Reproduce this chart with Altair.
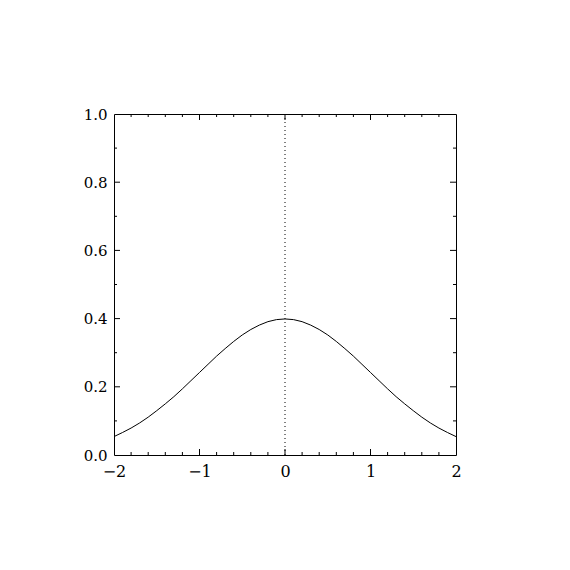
import altair as alt
import pandas as pd

# Curve values
xs = [-2.0, -1.9, -1.8, -1.7, -1.6, -1.5, -1.4, -1.3, -1.2, -1.1, -1.0,
      -0.9, -0.8, -0.7, -0.6, -0.5, -0.4, -0.3, -0.2, -0.1, 0.0,
      0.1, 0.2, 0.3, 0.4, 0.5, 0.6, 0.7, 0.8, 0.9, 1.0,
      1.1, 1.2, 1.3, 1.4, 1.5, 1.6, 1.7, 1.8, 1.9, 2.0]
ys = [0.054, 0.066, 0.079, 0.094, 0.111, 0.130, 0.150, 0.171, 0.194, 0.218, 0.242,
      0.266, 0.290, 0.312, 0.333, 0.352, 0.368, 0.381, 0.391, 0.397, 0.399,
      0.397, 0.391, 0.381, 0.368, 0.352, 0.333, 0.312, 0.290, 0.266, 0.242,
      0.218, 0.194, 0.171, 0.150, 0.130, 0.111, 0.094, 0.079, 0.066, 0.054]

x_labels = [-2, -1, 0, 1, 2]
y_labels = [0.0, 0.2, 0.4, 0.6, 0.8, 1.0]
x_major_ticks = [-1, 0, 1]
x_minor_ticks = [-1.8, -1.6, -1.4, -1.2, -0.8, -0.6, -0.4, -0.2,
                 0.2, 0.4, 0.6, 0.8, 1.2, 1.4, 1.6, 1.8]
y_major_ticks = [0.2, 0.4, 0.6, 0.8]
y_minor_ticks = [0.1, 0.3, 0.5, 0.7, 0.9]
vline_x = [0.0]

W, H = 342, 341
MAJ, MIN = 6, 3
FONT = "DejaVu Serif"

xscale = alt.Scale(domain=[-2, 2], nice=False, zero=False)
yscale = alt.Scale(domain=[0, 1], nice=False, zero=False)
xaxis = alt.Axis(values=x_labels, format="d", ticks=False, domain=False, grid=False,
                 title=None, labelFont=FONT, labelFontSize=16, labelColor="black",
                 labelPadding=8, labelFlush=False)
yaxis = alt.Axis(values=y_labels, format=".1f", ticks=False, domain=False, grid=False,
                 title=None, labelFont=FONT, labelFontSize=15, labelColor="black",
                 labelPadding=7, labelFlush=False)

curve_df = pd.DataFrame({"x": xs, "y": ys})
curve = alt.Chart(curve_df).mark_line(color="black", strokeWidth=1).encode(
    x=alt.X("x:Q", scale=xscale, axis=xaxis),
    y=alt.Y("y:Q", scale=yscale, axis=yaxis),
)

vline = alt.Chart(pd.DataFrame({"x": vline_x})).mark_rule(
    color="black", strokeWidth=1, strokeDash=[1, 3]
).encode(x=alt.X("x:Q", scale=xscale, axis=xaxis))


def xticks(vals, length):
    d = pd.DataFrame({"x": vals})
    bottom = alt.Chart(d).mark_rule(color="black", strokeWidth=1).encode(
        x=alt.X("x:Q", scale=xscale, axis=xaxis),
        y=alt.value(H), y2=alt.value(H - length))
    top = alt.Chart(d).mark_rule(color="black", strokeWidth=1).encode(
        x=alt.X("x:Q", scale=xscale, axis=xaxis),
        y=alt.value(0), y2=alt.value(length))
    return [bottom, top]


def yticks(vals, length):
    d = pd.DataFrame({"y": vals})
    left = alt.Chart(d).mark_rule(color="black", strokeWidth=1).encode(
        y=alt.Y("y:Q", scale=yscale, axis=yaxis),
        x=alt.value(0), x2=alt.value(length))
    right = alt.Chart(d).mark_rule(color="black", strokeWidth=1).encode(
        y=alt.Y("y:Q", scale=yscale, axis=yaxis),
        x=alt.value(W), x2=alt.value(W - length))
    return [left, right]


layers = [curve, vline]
layers += xticks(x_major_ticks, MAJ) + xticks(x_minor_ticks, MIN)
layers += yticks(y_major_ticks, MAJ) + yticks(y_minor_ticks, MIN)

chart = alt.layer(*layers).properties(
    width=W, height=H,
    autosize=alt.AutoSizeParams(type="none"),
    padding={"left": 106, "top": 106, "right": 60, "bottom": 80},
    background="white",
).configure_view(stroke="black", strokeWidth=1)

chart.save("out.html", embed_options={"renderer": "svg", "actions": False})
